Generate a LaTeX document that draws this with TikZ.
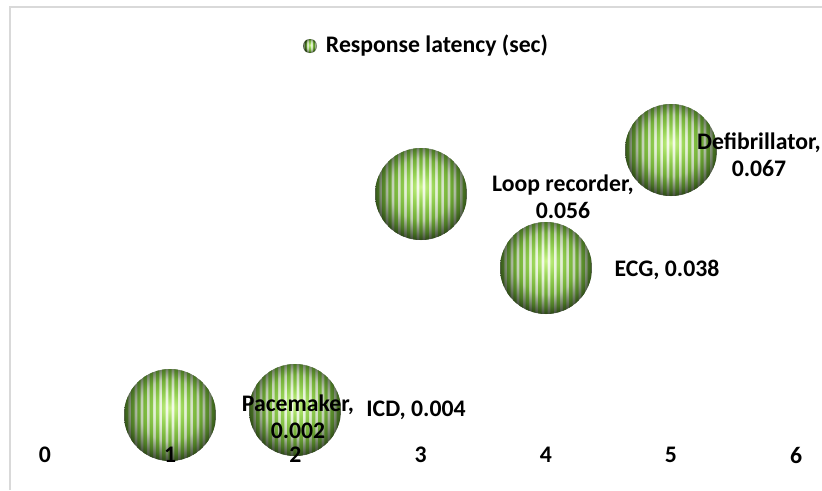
\documentclass[tikz,border=0pt]{standalone}
\usepackage{fontspec}
\setmainfont{Carlito}

\definecolor{gapA}{RGB}{246,252,236}
\definecolor{gapB}{RGB}{228,240,214}
\definecolor{gapC}{RGB}{190,204,176}
\definecolor{gapD}{RGB}{112,126,100}
\definecolor{gapE}{RGB}{52,60,46}
\definecolor{strA}{RGB}{200,244,135}
\definecolor{strB}{RGB}{150,210,85}
\definecolor{strC}{RGB}{116,176,56}
\definecolor{strD}{RGB}{74,118,36}
\definecolor{strE}{RGB}{36,58,18}
\definecolor{frame}{RGB}{217,217,217}

\pgfdeclareradialshading{gapshade}{\pgfpoint{0bp}{4bp}}{color(0bp)=(gapA); color(9bp)=(gapB); color(17bp)=(gapC); color(23bp)=(gapD); color(28bp)=(gapE); color(50bp)=(gapE)}
\pgfdeclareradialshading{stripeshade}{\pgfpoint{0bp}{4bp}}{color(0bp)=(strA); color(8bp)=(strB); color(16bp)=(strC); color(23bp)=(strD); color(28bp)=(strE); color(50bp)=(strE)}

\tikzset{
  lbl/.style={font=\bfseries\fontsize{17.8}{20.25}\selectfont, align=center, inner sep=0pt},
  bubble/.style n args={3}{circle, inner sep=0pt, minimum size=#1, path picture={
      \shade[shading=gapshade] (path picture bounding box.south west) rectangle (path picture bounding box.north east);
      \shade[shading=stripeshade] \foreach \k in {-#2,...,#2}
        {([xshift=\k*#3-0.28*#3]path picture bounding box.south) rectangle ([xshift=\k*#3+0.28*#3]path picture bounding box.north)};
  }},
}

\begin{document}
\begin{tikzpicture}[x=0.75pt, y=-0.75pt]
\useasboundingbox (0,0) rectangle (822,490);

% chart frame
\draw[frame, line width=1.1pt] (10,490) -- (10,7) -- (822,7);

% legend
\node[lbl] (title) at (437,46) {Response latency (sec)};
\node[bubble={10.5pt}{1}{3pt}] (key) at (310,46) {};

% bubbles
\node[bubble={69pt}{7}{4.65pt}] (b1) at (170,415) {};
\node[bubble={69pt}{7}{4.65pt}] (b2) at (295,410) {};
\node[bubble={69pt}{7}{4.65pt}] (b3) at (421,194) {};
\node[bubble={69pt}{7}{4.65pt}] (b4) at (546,268) {};
\node[bubble={69pt}{7}{4.65pt}] (b5) at (671,150) {};

% data labels
\node[lbl] (l1) at (298,417) {Pacemaker,\\0.002};
\node[lbl] (l2) at (416,410) {ICD, 0.004};
\node[lbl] (l3) at (563,197) {Loop recorder,\\0.056};
\node[lbl] (l4) at (667,270) {ECG, 0.038};
\node[lbl] (l5) at (759,155) {Defibrillator,\\0.067};

% x axis
\foreach \i in {0,...,6}
  \node[lbl] (t\i) at ({45+125.2*\i},455) {\i};

\end{tikzpicture}
\end{document}
